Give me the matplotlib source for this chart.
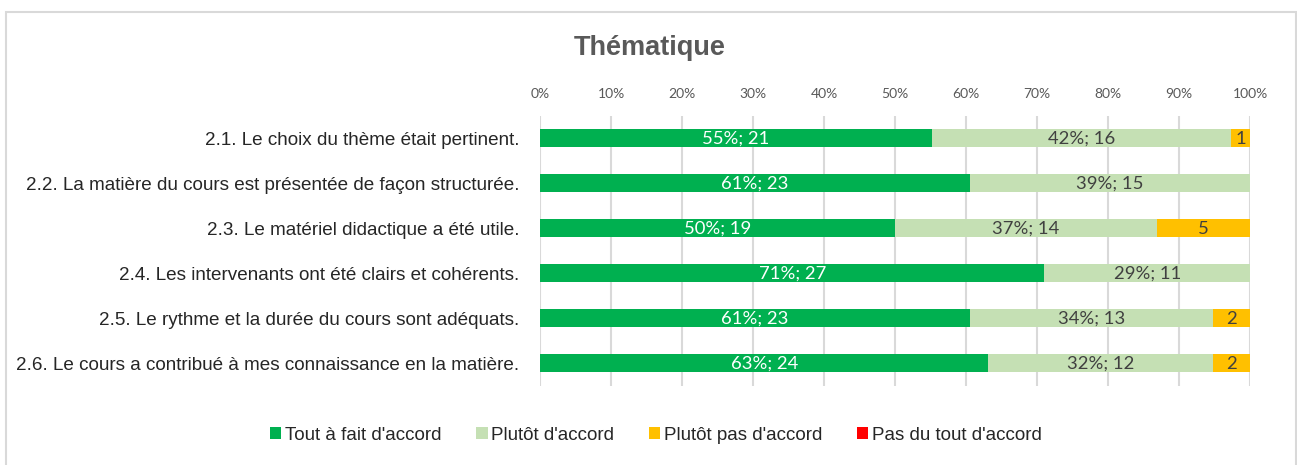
import matplotlib
matplotlib.use("Agg")
import matplotlib.pyplot as plt
from matplotlib.patches import Rectangle
from matplotlib import font_manager as fm
import numpy as np

categories = [
    "2.1. Le choix du thème était pertinent.",
    "2.2. La matière du cours est présentée de façon structurée.",
    "2.3. Le matériel didactique a été utile.",
    "2.4. Les intervenants ont été clairs et cohérents.",
    "2.5. Le rythme et la durée du cours sont adéquats.",
    "2.6. Le cours a contribué à mes connaissance en la matière.",
]
series_names = ["Tout à fait d'accord", "Plutôt d'accord", "Plutôt pas d'accord", "Pas du tout d'accord"]
tout_a_fait = [21, 23, 19, 27, 23, 24]
plutot = [16, 15, 14, 11, 13, 12]
plutot_pas = [1, 0, 5, 0, 2, 2]
pas_du_tout = [0, 0, 0, 0, 0, 0]
tick_labels = ["0%", "10%", "20%", "30%", "40%", "50%", "60%", "70%", "80%", "90%", "100%"]

colors = ["#00B050", "#C5E0B4", "#FFC000", "#FF0000"]
label_colors = ["white", "#404040", "#404040", "#404040"]

avail = {f.name for f in fm.fontManager.ttflist}
narrow = "Liberation Sans Narrow" if "Liberation Sans Narrow" in avail else "Liberation Sans"
datafont = "Lato" if "Lato" in avail else "DejaVu Sans"

series = [tout_a_fait, plutot, plutot_pas, pas_du_tout]
counts = np.array(series, dtype=float)
totals = counts.sum(axis=0)
pcts = counts / totals * 100

fig = plt.figure(figsize=(12.97, 4.65), dpi=100)
# outer frame
fig.patches.append(Rectangle((6/1297, -0.01), 1290/1297, 1 - 12/465 + 0.01, transform=fig.transFigure,
                             fill=False, edgecolor="#D9D9D9", linewidth=1.5))

ax = fig.add_axes([540/1297, 1 - 385.5/465, 710/1297, 270/465])
y = np.arange(len(categories))
left = np.zeros(len(categories))
for i in range(4):
    ax.barh(y, pcts[i], left=left, height=0.4, color=colors[i], label=series_names[i], zorder=3)
    for j in range(len(categories)):
        if counts[i, j] > 0:
            cx = left[j] + pcts[i, j] / 2
            if pcts[i, j] >= 15:
                txt = f"{pcts[i, j]:.0f}%; {int(counts[i, j])}"
            else:
                txt = f"{int(counts[i, j])}"
            ax.text(cx, y[j] + 0.02, txt, ha="center", va="center", color=label_colors[i],
                    fontsize=13.3, family=datafont, zorder=4)
    left = left + pcts[i]

ax.set_xlim(0, 100)
ax.set_ylim(len(categories) - 0.5, -0.5)
ax.set_xticks(np.arange(0, 101, 10))
ax.set_xticklabels(tick_labels, fontsize=10, color="#595959", family=datafont)
ax.xaxis.tick_top()
ax.tick_params(axis="x", length=0, pad=11)
ax.set_yticks(y)
ax.set_yticklabels(categories, fontsize=13.6, color="#262626", family=narrow)
ax.tick_params(axis="y", length=0, pad=15)
ax.grid(axis="x", color="#D9D9D9", linewidth=1.5, zorder=0)
for s in ax.spines.values():
    s.set_visible(False)

fig.text(650/1297, 1 - 48/465, "Thématique", ha="center", va="center", fontsize=19.5,
         fontweight="bold", color="#595959", family=narrow)

handles, labels = ax.get_legend_handles_labels()
leg = fig.legend(handles, labels, loc="center", bbox_to_anchor=(656/1297, 1 - 435/465), ncol=4,
                 frameon=False, prop={"family": narrow, "size": 13.5}, handlelength=0.6,
                 handleheight=0.6, handletextpad=0.2, columnspacing=1.85)
for t in leg.get_texts():
    t.set_color("#262626")

fig.savefig("out.png", dpi=100)
